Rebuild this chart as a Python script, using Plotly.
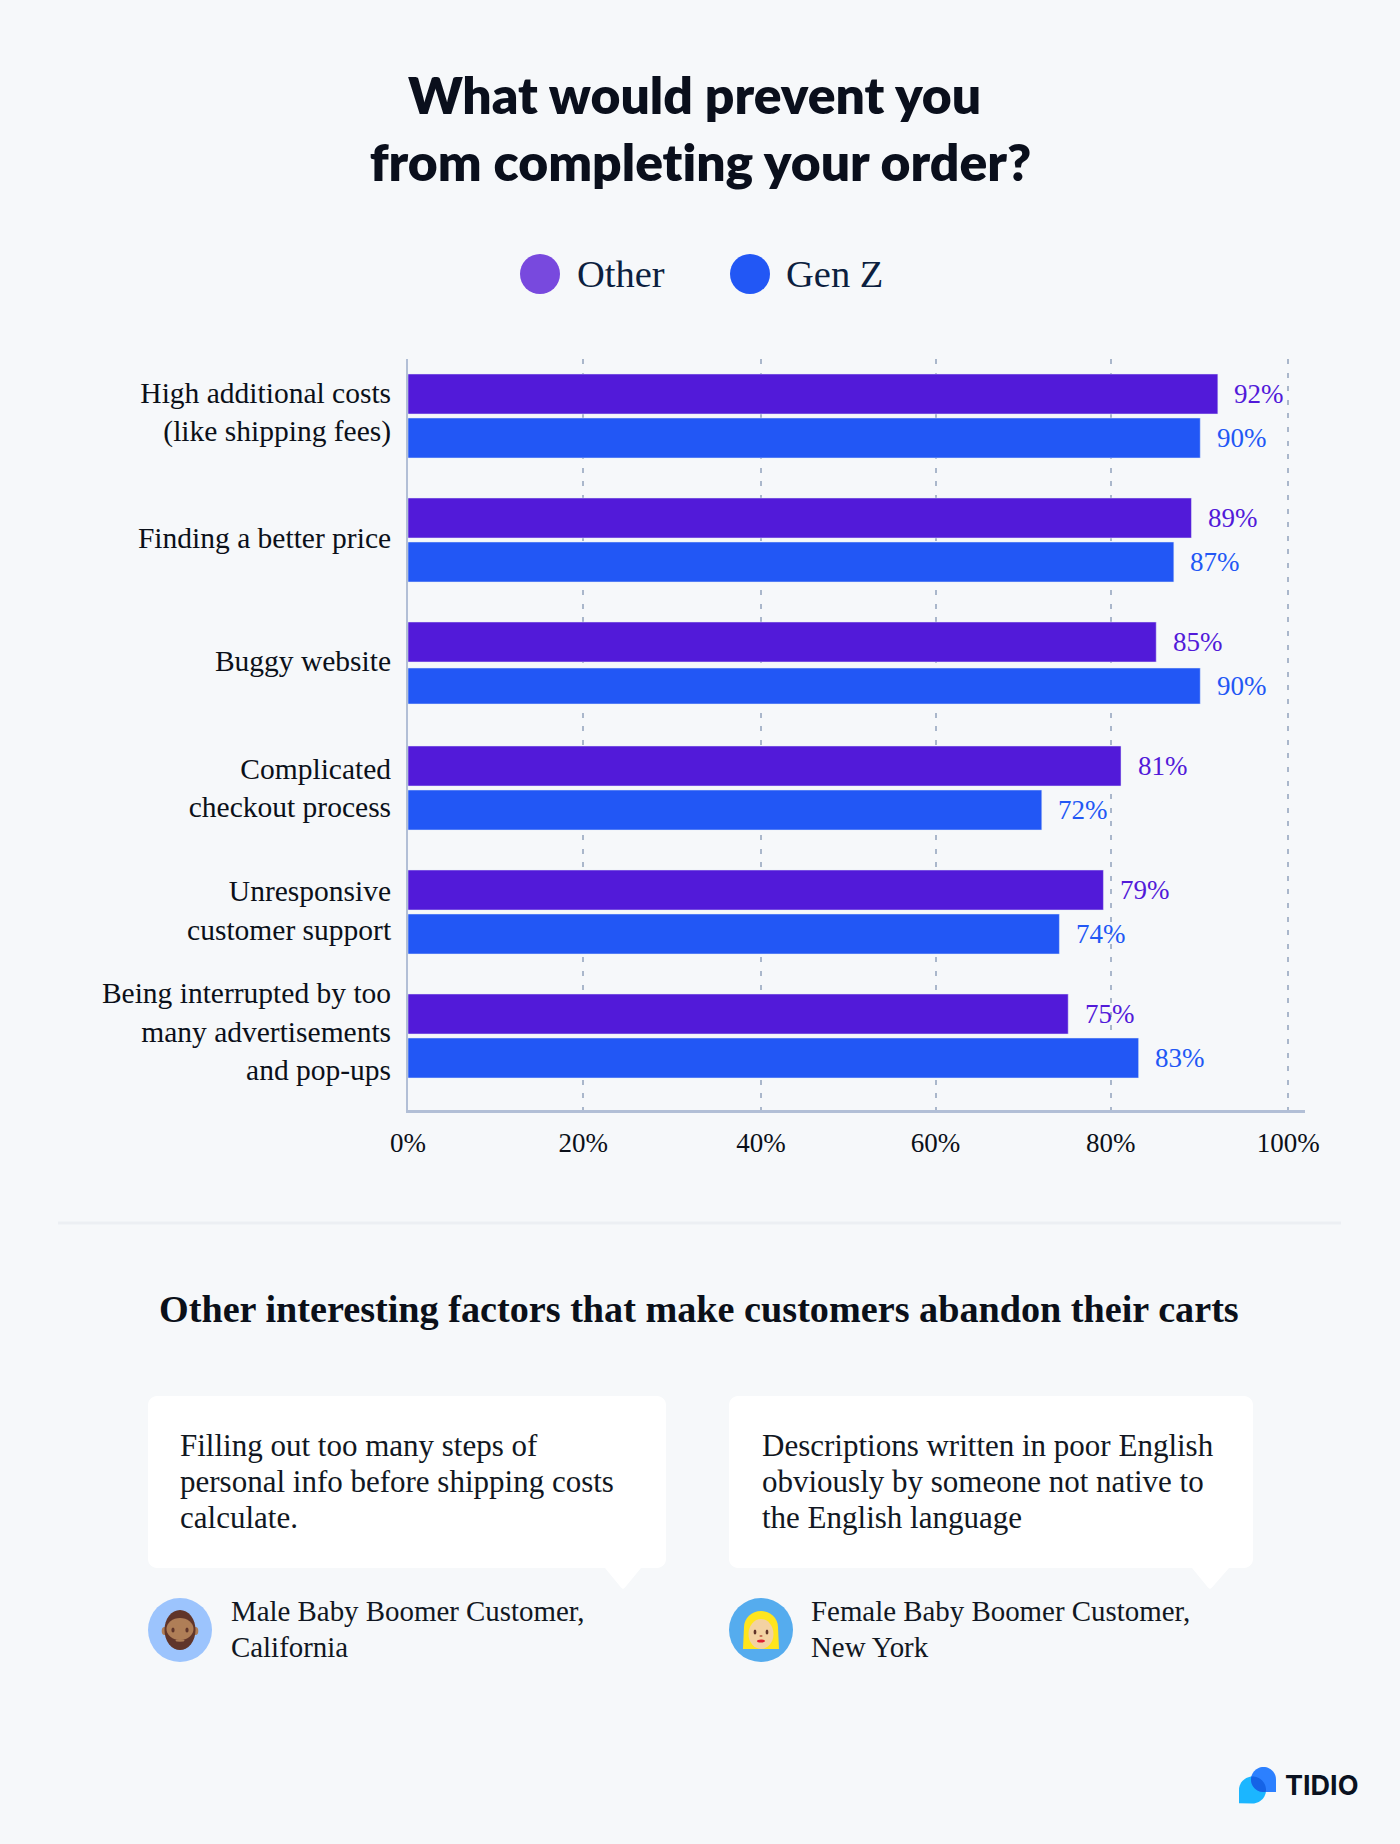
import numpy as np
import plotly.graph_objects as go

# ---- data ----
categories = [
    "High additional costs<br>(like shipping fees)",
    "Finding a better price",
    "Buggy website",
    "Complicated<br>checkout process",
    "Unresponsive<br>customer support",
    "Being interrupted by too<br>many advertisements<br>and pop-ups",
]
other_values = [92, 89, 85, 81, 79, 75]
genz_values = [90, 87, 90, 72, 74, 83]
series_names = ["Other", "Gen Z"]
x_tick_labels = ["0%", "20%", "40%", "60%", "80%", "100%"]

title_text = ("What would prevent you\u00a0<br>"
              "<span style='font-variant-ligatures:none'>from completing your order?</span>")
subtitle_text = "Other interesting factors that make customers abandon their carts"
quote_1 = ["Filling out too many steps of", "personal info before shipping costs", "calculate."]
quote_2 = ["Descriptions written in poor English", "obviously by someone not native to", "the English language"]
author_1 = ["Male Baby Boomer Customer,", "California"]
author_2 = ["Female Baby Boomer Customer,", "New York"]

# ---- style ----
W, H = 1400, 1844
BG = "#f6f8fa"
PURPLE = "#521ad9"
BLUE = "#2257f5"
LEG_PURPLE = "#7849de"
AXIS = "#b2bfd6"
GRID = "#aab7cb"
INK = "#0b1019"
SERIF = "Liberation Serif"
SANS = "Lato"
ROW = 124.0  # pixels per category
row_pos = list(range(len(categories)))
label_nudge_px = [-4, -2.4, -3.5, -0.6, -1.8, -4.7]
blue_height_px = [40, 40, 36, 40, 40, 40]
blue_offset_px = [2, 2, 4, 2, 2, 2]
x_tick_pos = [0, 19.92, 40.1, 59.93, 79.83, 100]  # the source's guide lines sit slightly off round values


def X(x):
    return x / W


def Y(y):
    return 1 - y / H


def pt(x, y):
    return f"{X(x):.5f},{Y(y):.5f}"


def ell(cx, cy, rx, ry, color):
    return dict(type="circle", xref="paper", yref="paper", x0=X(cx - rx), x1=X(cx + rx),
                y0=Y(cy + ry), y1=Y(cy - ry), fillcolor=color, line_width=0, layer="above")


def poly(points, color):
    d = "M" + " L".join(pt(x, y) for x, y in points) + " Z"
    return dict(type="path", xref="paper", yref="paper", path=d, fillcolor=color, line_width=0, layer="above")


def arc(cx, cy, r, a0, a1, n=24):
    t = np.radians(np.linspace(a0, a1, n))
    return [(cx + r * np.cos(a), cy + r * np.sin(a)) for a in t]


def card(x0, y0, x1, y1, r, tail_l, tail_r, tip_x, tip_y):
    pts = []
    pts += arc(x0 + r, y0 + r, r, 180, 270, 8)
    pts += arc(x1 - r, y0 + r, r, 270, 360, 8)
    pts += arc(x1 - r, y1 - r, r, 0, 90, 8)
    pts += [(tail_r, y1), (tip_x + 2, tip_y - 1.5), (tip_x, tip_y), (tip_x - 2, tip_y - 1.5), (tail_l, y1)]
    pts += arc(x0 + r, y1 - r, r, 90, 180, 8)
    return poly(pts, "#ffffff")


def text(x, y, s, size, color=INK, anchor="left", family=SERIF, weight=400):
    return dict(xref="paper", yref="paper", x=X(x), y=Y(y), text=s, showarrow=False,
                xanchor=anchor, yanchor="middle",
                font=dict(family=family, size=size, color=color, weight=weight))


def lines(x, ys, rows, size, color="#111722"):
    return [text(x, y, s, size, color) for y, s in zip(ys, rows)]


# ---- bars ----
fig = go.Figure()
fig.add_bar(name=series_names[0], y=row_pos, x=other_values, orientation="h",
            marker_color=PURPLE, width=[40 / ROW] * 6, offset=[-42 / ROW] * 6)
fig.add_bar(name=series_names[1], y=row_pos, x=genz_values, orientation="h",
            marker_color=BLUE, width=[h / ROW for h in blue_height_px],
            offset=[o / ROW for o in blue_offset_px])

annotations = []
for r, a, b in zip(row_pos, other_values, genz_values):
    annotations.append(dict(x=a, y=r, text=f"{a}%", showarrow=False, xanchor="left", yanchor="middle",
                            xshift=14.5, yshift=22, font=dict(family=SERIF, size=27, color=PURPLE)))
    annotations.append(dict(x=b, y=r, text=f"{b}%", showarrow=False, xanchor="left", yanchor="middle",
                            xshift=14.5, yshift=-22, font=dict(family=SERIF, size=27, color=BLUE)))

annotations += [
    text(575, 274, series_names[0], 38.5, "#0c1f3f"),
    text(784, 274, series_names[1], 38.5, "#0c1f3f"),
    text(699, 1309, subtitle_text, 38.2, INK, "center", weight=700),
    text(1283, 1785, "TIDIO", 27, "#0a1220", family="Inter", weight=700),
]
annotations += lines(178, [1445, 1481, 1517], quote_1, 31)
annotations += lines(759.6, [1445, 1481, 1517], quote_2, 31)
annotations += lines(228.5, [1611, 1646.5], author_1, 28.9)
annotations += lines(808.5, [1611, 1646.5], author_2, 28.9)

# ---- decorations ----
shapes = [
    ell(540, 274, 20, 20, LEG_PURPLE),
    ell(750, 274, 20, 20, BLUE),
    dict(type="line", xref="paper", yref="paper", x0=X(58), x1=X(1341), y0=Y(1223), y1=Y(1223),
         line=dict(color="#eceff3", width=3)),
    card(148, 1396, 666, 1568, 9, 605, 641, 623, 1589),
    card(729, 1396, 1253, 1568, 9, 1192, 1229, 1210, 1589),
    # male avatar
    ell(180, 1630, 32, 32, "#9cc4fd"),
    ell(164.5, 1631, 2.8, 4, "#af7e57"),
    ell(195.5, 1631, 2.8, 4, "#af7e57"),
    ell(180, 1630, 15.5, 20, "#60352a"),
    ell(180, 1629, 13.5, 11, "#af7e57"),
    ell(173, 1630, 1.6, 2.5, "#60352a"),
    ell(187, 1630, 1.6, 2.5, "#60352a"),
    ell(180, 1640.5, 4.5, 1.2, "#af7e57"),
    # female avatar
    ell(761, 1630, 32, 32, "#55acee"),
    ell(761, 1627, 17, 16, "#ffe51e"),
    poly([(744, 1627), (778, 1627), (779, 1649), (743, 1649)], "#ffe51e"),
    ell(761, 1634, 12.5, 15, "#f3d2a2"),
    ell(755, 1632, 1.4, 2.6, "#60352a"),
    ell(767, 1632, 1.4, 2.6, "#60352a"),
    ell(761, 1636, 1.6, 1, "#c1694f"),
    ell(761, 1641, 4, 1.6, "#df1f32"),
]

# logo
LC, LR = (1252.5, 1790), 13.5
BC, BR = (1263.5, 1779.5), 12.5
light = [(1239, 1790)] + arc(LC[0], LC[1], LR, 180, 450, 40) + [(1239, 1803.2)]
blue = arc(BC[0], BC[1], BR, 90, 360, 40) + [(1276, 1792)]
t = np.radians(np.linspace(0, 360, 361))
lens = []
for (c, r, oc, orad) in [(LC, LR, BC, BR), (BC, BR, LC, LR)]:
    for a in t:
        p = (c[0] + r * np.cos(a), c[1] + r * np.sin(a))
        if (p[0] - oc[0]) ** 2 + (p[1] - oc[1]) ** 2 <= orad ** 2:
            lens.append(p)
mx, my = np.mean([p[0] for p in lens]), np.mean([p[1] for p in lens])
lens.sort(key=lambda p: np.arctan2(p[1] - my, p[0] - mx))
shapes += [poly(light, "#1bb6ff"), poly(blue, "#2c80ff"), poly(lens, "#1563e6")]

fig.update_layout(
    width=W, height=H, autosize=False,
    paper_bgcolor=BG, plot_bgcolor=BG,
    margin=dict(l=0, r=0, t=0, b=0, pad=0, autoexpand=False),
    barmode="overlay", showlegend=False,
    title=dict(text=title_text, x=700.5 / W, xanchor="center", xref="paper", y=Y(114), yref="paper",
               yanchor="middle", automargin=False,
               font=dict(family=SANS, size=51.6, color="#0a0f1c", weight=800)),
    xaxis=dict(domain=[X(408), X(1305)], range=[0, 101.9], tickvals=x_tick_pos, ticktext=x_tick_labels,
               automargin=False, showgrid=True, gridcolor=GRID, gridwidth=2, griddash="5px,8.6px",
               showline=True, linecolor=AXIS, linewidth=3, zeroline=False, ticks="",
               ticklabelstandoff=7, tickfont=dict(family=SERIF, size=27, color=INK)),
    yaxis=dict(domain=[Y(1110), Y(359)], range=[(1110 - 416) / ROW, (359 - 416) / ROW],
               tickvals=[r + n / ROW for r, n in zip(row_pos, label_nudge_px)], ticktext=categories,
               automargin=False, showgrid=False, showline=True, linecolor=AXIS, linewidth=2,
               zeroline=False, ticks="", ticklabelstandoff=9,
               tickfont=dict(family=SERIF, size=29.5, color=INK)),
    annotations=annotations, shapes=shapes,
)

fig.write_html("out.html", config=dict(displayModeBar=False),
               post_script="document.body.style.margin='0';document.body.style.background='#f6f8fa';")
